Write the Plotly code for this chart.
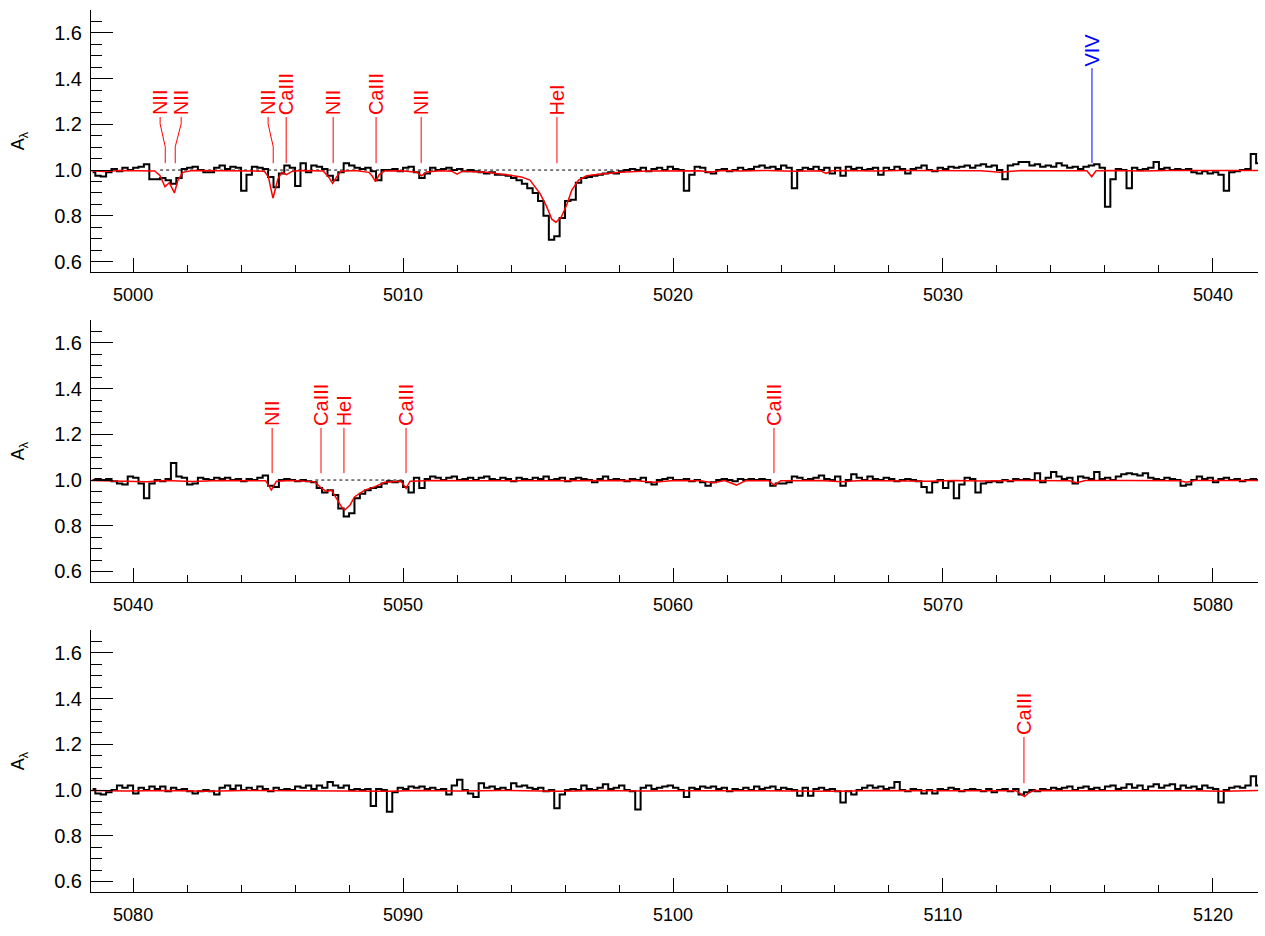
import plotly.graph_objects as go

# ---------------- data ----------------
STEP = 0.2
P1_START, P2_START, P3_START = 4998.5, 5038.5, 5078.5

obs1 = [
    0.990, 0.975, 0.972, 0.990, 1.005, 0.995, 1.010, 1.000, 1.010, 1.015,
    1.025, 0.960, 0.960, 0.965, 0.955, 0.940, 0.965, 1.005, 1.010, 1.015,
    1.000, 0.990, 0.990, 1.010, 1.020, 1.005, 1.015, 1.010, 0.910, 0.980,
    1.015, 1.010, 1.005, 0.970, 0.925, 0.985, 1.020, 1.010, 0.930, 1.030,
    0.990, 1.020, 1.015, 1.005, 0.975, 0.955, 0.990, 1.030, 1.020, 1.010,
    1.005, 1.010, 0.995, 0.955, 1.000, 1.000, 1.005, 0.995, 1.010, 1.015,
    0.990, 0.965, 0.985, 1.010, 1.000, 1.005, 1.010, 1.000, 1.005,
    0.995, 1.000, 0.995, 0.990, 0.985, 0.990, 0.980, 0.980, 0.975, 0.965,
    0.955, 0.940, 0.920, 0.900, 0.865, 0.800, 0.695, 0.710, 0.790, 0.865,
    0.870, 0.945, 0.965, 0.970, 0.975, 0.980, 0.985, 0.990, 0.985, 0.995,
    1.000, 1.005, 1.000, 1.010, 0.995, 1.005, 1.010, 1.000, 1.015, 1.005,
    1.000, 0.910, 0.980, 1.015, 1.010, 0.990, 0.985, 1.000, 1.005, 0.995,
    1.000, 1.010, 1.000, 1.005, 1.015, 1.020, 1.010, 1.015, 1.005, 1.020,
    1.010, 0.920, 1.000, 1.010, 1.005, 1.015, 1.000, 1.010, 0.985, 1.010,
    0.975, 1.015, 1.005, 1.010, 1.000, 1.005, 1.010, 0.980, 1.010, 1.000,
    1.015, 1.005, 0.985, 1.005, 1.010, 1.020, 1.000, 0.995, 1.010, 1.005,
    1.015, 1.010, 1.015, 1.020, 1.010, 1.020, 1.025, 1.015, 1.020, 1.000,
    0.960, 1.020, 1.025, 1.035, 1.035, 1.020, 1.025, 1.015, 1.020,
    1.015, 1.030, 1.020, 1.010, 1.015, 1.005, 1.015, 1.020, 1.025, 1.010,
    0.840, 0.960, 1.005, 1.000, 0.920, 1.010, 1.000, 1.005, 1.010, 1.035,
    1.005, 1.010, 1.000, 1.005, 1.000, 1.005, 0.990, 0.985, 0.995, 0.985,
    0.990, 0.980, 0.910, 0.990, 0.995, 1.000, 1.005, 1.070, 1.030,
]

obs2 = [
    1.000, 1.005, 1.000, 1.005, 0.995, 0.985, 0.980, 1.015, 1.010, 0.985,
    0.920, 0.985, 1.000, 0.995, 1.005, 1.075, 1.015, 1.010, 0.980, 0.985,
    1.010, 1.005, 1.000, 1.010, 1.005, 1.010, 1.000, 1.005, 0.995, 1.005,
    1.000, 1.010, 1.020, 0.975, 0.970, 1.000, 1.005, 1.000, 0.995, 1.000,
    0.995, 0.990, 0.965, 0.945, 0.955, 0.935, 0.875, 0.840, 0.855, 0.920,
    0.940, 0.955, 0.965, 0.970, 0.985, 0.995, 0.990, 0.995, 0.970, 0.945,
    1.010, 0.965, 1.005, 1.015, 1.010, 1.000, 1.010, 1.015, 1.000,
    1.005, 1.010, 1.000, 1.010, 1.015, 1.005, 1.000, 1.010, 1.005, 0.995,
    1.010, 1.005, 1.000, 1.010, 1.005, 1.015, 1.000, 1.005, 1.010, 0.995,
    1.005, 1.010, 1.005, 1.000, 0.990, 1.005, 1.015, 1.000, 1.005, 1.000,
    0.995, 1.005, 1.000, 1.010, 0.990, 0.980, 1.000, 1.005, 1.010, 1.000,
    1.000, 1.005, 0.995, 1.000, 0.990, 0.975, 0.990, 1.000, 1.005, 1.000,
    0.995, 1.005, 1.000, 1.005, 1.000, 1.005, 1.000, 0.975, 0.985, 0.985,
    0.990, 1.015, 1.010, 1.000, 1.005, 1.010, 1.020, 1.005, 1.000, 1.015,
    0.975, 1.000, 1.025, 1.010, 1.000, 1.015, 1.005, 1.000, 1.010, 1.005,
    0.995, 1.000, 1.005, 1.000, 0.995, 0.970, 0.945, 0.990, 1.000, 0.965,
    0.995, 0.920, 0.980, 1.010, 1.005, 0.945, 0.985, 0.990, 0.995, 0.990,
    1.000, 0.995, 1.005, 1.000, 1.005, 1.000, 1.030, 0.990, 1.010,
    1.035, 1.015, 1.005, 1.010, 0.985, 1.015, 1.010, 1.005, 1.035, 1.005,
    1.010, 1.000, 1.015, 1.025, 1.030, 1.025, 1.020, 1.030, 1.010, 1.005,
    1.000, 1.010, 1.005, 1.000, 0.975, 0.980, 1.000, 1.015, 1.005, 1.010,
    0.990, 1.005, 1.010, 1.000, 1.005, 0.995, 1.000, 1.005, 1.000,
]

obs3 = [
    1.005, 0.985, 0.980, 0.990, 1.000, 1.020, 1.010, 1.020, 0.985, 1.010,
    1.000, 1.015, 1.005, 1.015, 0.995, 1.010, 1.000, 1.005, 0.995, 0.985,
    0.995, 1.000, 0.995, 0.980, 1.010, 1.020, 1.005, 1.020, 1.000, 1.010,
    1.000, 1.015, 1.005, 0.995, 1.010, 1.000, 1.005, 1.000, 1.015, 1.010,
    1.020, 1.005, 1.020, 1.010, 1.035, 1.020, 1.010, 1.020, 1.000, 1.005,
    1.000, 1.005, 0.930, 1.005, 1.000, 0.905, 0.990, 1.010, 1.005, 1.015,
    1.010, 1.015, 1.005, 1.010, 1.000, 1.005, 0.980, 1.020, 1.045,
    1.000, 0.985, 0.970, 1.030, 1.010, 1.015, 1.005, 1.010, 1.000, 1.030,
    1.015, 1.020, 1.010, 1.005, 1.010, 0.995, 1.000, 0.920, 0.980, 1.000,
    1.005, 1.000, 1.020, 1.005, 1.000, 1.010, 1.025, 1.005, 1.010, 1.020,
    1.000, 0.995, 0.915, 1.010, 1.020, 1.005, 1.010, 1.015, 1.020, 1.010,
    1.000, 0.970, 1.010, 1.005, 1.015, 1.010, 1.015, 1.005, 1.010, 0.995,
    1.005, 1.000, 1.010, 1.000, 1.015, 1.005, 1.010, 1.015, 1.000, 1.010,
    1.005, 1.000, 0.975, 1.010, 0.975, 1.005, 1.010, 1.000, 1.005, 0.995,
    0.945, 0.995, 0.980, 1.000, 1.010, 1.020, 1.010, 1.015, 1.005, 1.010,
    1.035, 1.000, 0.995, 1.005, 1.000, 0.985, 1.000, 0.985, 1.005, 1.000,
    1.010, 1.005, 0.995, 1.000, 1.005, 1.000, 0.995, 1.005, 0.990, 1.000,
    1.005, 0.995, 1.005, 0.980, 0.990, 1.000, 0.995, 1.005, 1.000,
    1.010, 1.005, 1.010, 1.015, 1.000, 1.010, 1.015, 1.005, 1.010, 1.000,
    1.015, 1.020, 1.005, 1.010, 1.025, 1.010, 1.020, 1.000, 1.015, 1.025,
    1.010, 1.020, 1.025, 1.005, 1.020, 1.010, 1.015, 1.005, 1.020, 1.010,
    1.005, 0.945, 1.000, 1.010, 1.015, 1.010, 1.020, 1.060, 1.020,
]

# synthetic (model) spectrum: (wavelength, flux) nodes
mod1 = [
    (4998.40, 0.997), (4998.92, 0.994), (4999.51, 0.998), (5000.21, 0.997),
    (5000.80, 0.996), (5001.00, 0.975), (5001.18, 0.927), (5001.34, 0.945),
    (5001.53, 0.900), (5001.66, 0.955), (5001.84, 0.990), (5002.19, 0.998),
    (5003.18, 0.997), (5004.17, 0.998), (5004.86, 0.995), (5005.01, 0.970),
    (5005.18, 0.877), (5005.36, 0.960), (5005.51, 0.990), (5005.68, 0.980),
    (5005.91, 0.995), (5006.25, 0.998), (5007.04, 0.996), (5007.24, 0.970),
    (5007.39, 0.942), (5007.54, 0.970), (5007.69, 0.995), (5008.23, 0.998),
    (5008.73, 0.990), (5008.85, 0.975), (5008.98, 0.949), (5009.12, 0.980),
    (5009.32, 0.996), (5009.92, 0.997), (5010.51, 0.990), (5010.69, 0.975),
    (5010.86, 0.992), (5011.40, 0.997), (5011.80, 0.995), (5012.00, 0.982),
    (5012.20, 0.995), (5012.59, 0.993), (5013.09, 0.990), (5013.58, 0.983),
    (5014.08, 0.976), (5014.38, 0.970), (5014.70, 0.956), (5015.07, 0.898),
    (5015.32, 0.840), (5015.51, 0.785), (5015.66, 0.772), (5015.86, 0.795),
    (5016.06, 0.847), (5016.25, 0.912), (5016.50, 0.956), (5016.80, 0.975),
    (5017.35, 0.983), (5018.04, 0.990), (5019.03, 0.996), (5020.02, 0.998),
    (5021.01, 0.997), (5021.36, 0.990), (5021.81, 0.998), (5022.50, 0.996),
    (5023.49, 0.998), (5024.48, 0.995), (5025.47, 0.997), (5025.67, 0.985),
    (5025.87, 0.997), (5026.46, 0.998), (5027.45, 0.996), (5028.44, 0.998),
    (5029.43, 0.997), (5030.42, 0.998), (5031.41, 0.997), (5032.11, 0.990),
    (5032.90, 0.998), (5033.89, 0.997), (5034.88, 0.998), (5035.33, 0.997),
    (5035.51, 0.971), (5035.67, 0.997), (5036.37, 0.998), (5037.36, 0.996),
    (5038.35, 0.998), (5039.34, 0.997), (5040.33, 0.998), (5041.72, 0.998),
]

mod2 = [
    (5038.40, 0.998), (5039.71, 0.996), (5040.51, 0.993), (5041.20, 0.998),
    (5042.19, 0.994), (5043.18, 0.998), (5044.17, 0.997), (5044.91, 0.997),
    (5045.12, 0.956), (5045.31, 0.995), (5045.86, 0.998), (5046.45, 0.996),
    (5046.73, 0.992), (5046.98, 0.964), (5047.16, 0.950), (5047.35, 0.956),
    (5047.53, 0.920), (5047.72, 0.883), (5047.84, 0.869), (5048.03, 0.890),
    (5048.21, 0.927), (5048.58, 0.956), (5048.96, 0.971), (5049.32, 0.990),
    (5049.92, 0.995), (5050.11, 0.964), (5050.26, 0.995), (5051.11, 0.998),
    (5052.59, 0.997), (5054.57, 0.998), (5056.56, 0.997), (5058.54, 0.998),
    (5059.28, 0.990), (5060.02, 0.998), (5061.01, 0.997), (5061.49, 0.988),
    (5061.91, 0.998), (5062.35, 0.978), (5062.70, 0.998), (5063.54, 0.997),
    (5063.75, 0.978), (5063.99, 0.997), (5065.47, 0.998), (5066.26, 0.992),
    (5066.96, 0.998), (5068.44, 0.997), (5069.43, 0.995), (5070.42, 0.998),
    (5071.41, 0.996), (5072.90, 0.998), (5074.68, 0.997), (5074.95, 0.988),
    (5075.28, 0.998), (5076.86, 0.998), (5078.75, 0.997), (5079.02, 0.990),
    (5079.34, 0.998), (5081.72, 0.998),
]

mod3 = [
    (5078.40, 0.998), (5079.71, 0.996), (5081.20, 0.998), (5082.69, 0.995),
    (5084.17, 0.998), (5085.66, 0.997), (5087.14, 0.998), (5088.83, 0.995),
    (5089.42, 0.995), (5090.61, 0.998), (5092.10, 0.996), (5093.58, 0.998),
    (5095.76, 0.995), (5097.55, 0.998), (5098.74, 0.996), (5100.52, 0.997),
    (5102.50, 0.998), (5104.48, 0.996), (5106.16, 0.995), (5107.45, 0.998),
    (5109.43, 0.997), (5110.92, 0.998), (5112.70, 0.997), (5112.85, 0.985),
    (5113.02, 0.971), (5113.20, 0.990), (5113.40, 0.998), (5115.38, 0.997),
    (5117.36, 0.998), (5119.34, 0.997), (5120.33, 0.995), (5121.72, 0.998),
]

# line identifications: name, text wavelength, line wavelength, top of line, colour
ids1 = [
    ("NII", 5001.00, 5001.19, 1.232, "red"),
    ("NII", 5001.78, 5001.56, 1.232, "red"),
    ("NII", 5005.00, 5005.19, 1.232, "red"),
    ("CaIII", 5005.67, 5005.67, 1.232, "red"),
    ("NII", 5007.41, 5007.41, 1.232, "red"),
    ("CaIII", 5009.00, 5009.00, 1.232, "red"),
    ("NII", 5010.67, 5010.67, 1.232, "red"),
    ("HeI", 5015.70, 5015.70, 1.232, "red"),
    ("VIV", 5035.52, 5035.52, 1.446, "blue"),
]
ids2 = [
    ("NII", 5045.15, 5045.15, 1.228, "red"),
    ("CaIII", 5046.96, 5046.96, 1.228, "red"),
    ("HeI", 5047.81, 5047.81, 1.228, "red"),
    ("CaIII", 5050.11, 5050.11, 1.228, "red"),
    ("CaIII", 5063.74, 5063.74, 1.228, "red"),
]
ids3 = [
    ("CaIII", 5113.00, 5113.00, 1.232, "red"),
]
LINE_BOTTOM = 1.03

# continuum reference (dotted) segments per panel
cont1 = (5001.0, 5018.54)
cont2 = (5046.75, 5050.02)

x_ranges = [(4998.44, 5041.67), (5038.44, 5081.67), (5078.44, 5121.67)]
y_range = (0.554, 1.70)
y_domains = [(0.7029, 1.0), (0.3515, 0.6485), (0.0, 0.2971)]

# ---------------- figure ----------------
FONT = "Liberation Sans"
fig = go.Figure()
annotations = []

panels = [
    (P1_START, obs1, mod1, ids1, cont1),
    (P2_START, obs2, mod2, ids2, cont2),
    (P3_START, obs3, mod3, ids3, None),
]

for i, (start, obs, mod, ids, cont) in enumerate(panels):
    sfx = "" if i == 0 else str(i + 1)
    xa, ya = "x" + sfx, "y" + sfx
    wave = [start + STEP * k for k in range(len(obs))]
    if cont is not None:
        fig.add_trace(go.Scatter(x=list(cont), y=[1.0, 1.0], mode="lines",
                                 line=dict(color="black", width=1, dash="dot"),
                                 xaxis=xa, yaxis=ya, hoverinfo="skip"))
    fig.add_trace(go.Scatter(x=wave, y=obs, mode="lines",
                             line=dict(color="black", width=2, shape="hvh"),
                             xaxis=xa, yaxis=ya))
    fig.add_trace(go.Scatter(x=[m[0] for m in mod], y=[m[1] for m in mod], mode="lines",
                             line=dict(color="#ff0000", width=1.5),
                             xaxis=xa, yaxis=ya))
    for name, wt, wl, top, col in ids:
        if abs(wt - wl) > 1e-6:
            xs = [wt, wt, wl, wl]
            ys = [top, top - 0.03, top - 0.13, LINE_BOTTOM]
        else:
            xs = [wt, wt]
            ys = [top, LINE_BOTTOM]
        fig.add_trace(go.Scatter(x=xs, y=ys, mode="lines",
                                 line=dict(color=col, width=1),
                                 xaxis=xa, yaxis=ya, hoverinfo="skip"))
        annotations.append(dict(x=wt, y=top, xref=xa, yref=ya, text=name,
                                textangle=-90, showarrow=False,
                                xanchor="center", yanchor="bottom",
                                font=dict(family=FONT, size=20, color=col)))

layout = dict(
    width=1265, height=936,
    margin=dict(l=91, r=7, t=10, b=44),
    paper_bgcolor="white", plot_bgcolor="white",
    showlegend=False,
    font=dict(family=FONT, size=18, color="black"),
    annotations=annotations,
)

XMAJ, XMIN = 14, 7
YMAJ, YMIN = 22, 11
for i in range(3):
    sfx = "" if i == 0 else str(i + 1)
    msfx = str(i + 4)
    common_x = dict(range=list(x_ranges[i]), domain=[0, 1],
                    showline=True, linecolor="black", linewidth=1,
                    ticks="inside", ticklen=XMAJ, tickwidth=1, tickcolor="black",
                    tick0=5000, dtick=10, showgrid=False, zeroline=False,
                    automargin=False,
                    minor=dict(ticks="inside", ticklen=XMIN, tick0=5000, dtick=2,
                               tickcolor="black", tickwidth=1, showgrid=False))
    common_y = dict(range=list(y_range), domain=list(y_domains[i]),
                    showline=True, linecolor="black", linewidth=1,
                    ticks="inside", ticklen=YMAJ, tickwidth=1, tickcolor="black",
                    tick0=0.6, dtick=0.2, showgrid=False, zeroline=False,
                    automargin=False,
                    minor=dict(ticks="inside", ticklen=YMIN, tick0=0.6, dtick=0.05,
                               tickcolor="black", tickwidth=1, showgrid=False))
    layout["xaxis" + sfx] = dict(common_x, anchor="y" + sfx, side="bottom",
                                 tickformat="d", ticklabelstandoff=6,
                                 tickfont=dict(family=FONT, size=18))
    layout["yaxis" + sfx] = dict(common_y, anchor="x" + sfx, side="left",
                                 tickformat=".1f", ticklabelstandoff=4,
                                 tickfont=dict(family=FONT, size=20),
                                 title=dict(text="A<sub>λ</sub>",
                                            font=dict(family=FONT, size=18),
                                            standoff=24))
    # mirrored frame axes (top and right) carrying inside ticks, no labels
    layout["xaxis" + msfx] = dict(common_x, anchor="y" + sfx, side="top",
                                  overlaying="x" + sfx, showticklabels=False)
    layout["yaxis" + msfx] = dict(common_y, anchor="x" + sfx, side="right",
                                  overlaying="y" + sfx, showticklabels=False)

fig.update_layout(**layout)
# remove the browser's default 8px body margin so the figure sits at the page origin
fig.write_html("out.html", config={"displayModeBar": False},
               post_script="document.body.style.margin='0px';")
